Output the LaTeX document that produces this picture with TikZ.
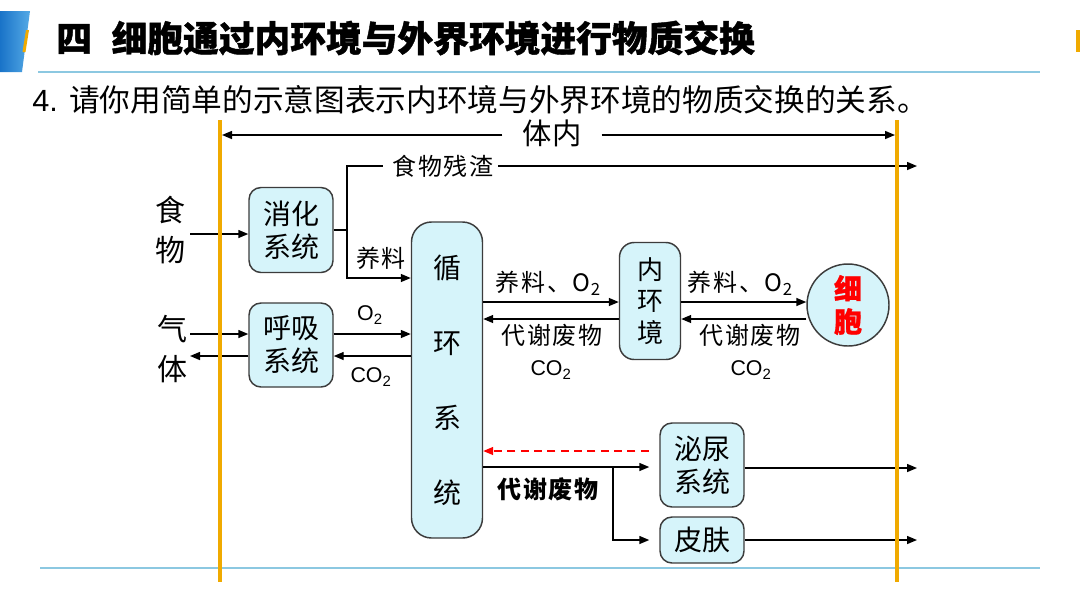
\documentclass[tikz,border=0pt]{standalone}
\usepackage{fontspec}
\setmainfont{Liberation Sans}
\newfontfamily\cjk{Noto Sans CJK SC}
\newfontfamily\cjkt[BoldFeatures={FakeBold=1.2}]{Noto Sans CJK SC}
\usetikzlibrary{arrows.meta}
\definecolor{boxfill}{RGB}{214,244,250}
\definecolor{boxline}{RGB}{60,60,60}
\definecolor{gold}{RGB}{240,170,0}
\definecolor{rulecol}{RGB}{140,200,225}
\definecolor{blueA}{RGB}{25,115,200}
\definecolor{blueB}{RGB}{85,170,230}
\newcommand\oxy{O\textsubscript{2}}
\newcommand\coo{CO\textsubscript{2}}
\begin{document}
\begin{tikzpicture}[x=0.75pt,y=-0.75pt,
 sysbox/.style={draw=boxline, fill=boxfill, line width=1.1pt, rounded corners=9pt, align=center, inner sep=0pt, font=\cjk\fontsize{21}{24.75}\selectfont},
 lab/.style={inner sep=0pt, font=\cjk\fontsize{18}{20}\selectfont\addfontfeature{LetterSpace=8}},
 chem/.style={inner sep=0pt, font=\fontsize{16}{18}\selectfont},
 con/.style={draw=black, line width=1.1pt, -{Triangle[length=7.5pt,width=6pt]}},
 plainline/.style={draw=black, line width=1.1pt},
 goldline/.style={draw=gold, line width=3pt},
 rulel/.style={draw=rulecol, line width=1.2pt},
]
\useasboundingbox (0,0) rectangle (1080,608);
\fill[white] (0,0) rectangle (1080,608);
% header decoration
\shade[left color=blueA, right color=blueB] (0,11) -- (30,11) -- (22,72) -- (0,72) -- cycle;
\fill[gold] (26,30) -- (29,30) -- (25.5,52) -- (22.5,52) -- cycle;
\fill[gold] (1076,30) rectangle (1080,52);
\node[anchor=west, inner sep=0pt, font=\cjkt\bfseries\fontsize{26.8}{28}\selectfont] (title) at (56,38) {四\hspace{0.55em}细胞通过内环境与外界环境进行物质交换};
\draw[rulel] (38,72) -- (1040,72);
\node[anchor=west, inner sep=0pt, font=\fontsize{23}{26}\selectfont] (sub) at (32,100) {4. {\cjk 请你用简单的示意图表示内环境与外界环境的物质交换的关系。}};
\draw[rulel] (40,568) -- (1040,568);

% 体内
\node[inner sep=0pt, font=\cjk\fontsize{22}{24}\selectfont, minimum width=74pt] (tinei) at (552,133) {体内};
\coordinate (tl) at (222,135);
\coordinate (tr) at (895,135);
\draw[con] (tinei.west |- tl) -- (tl);
\draw[con] (tinei.east |- tr) -- (tr);

% boxes
\node[sysbox, minimum width=63pt, minimum height=63.75pt] (xh) at (291,230) {消化\\系统};
\node[sysbox, minimum width=63pt, minimum height=63pt] (hx) at (291,345) {呼吸\\系统};
\node[sysbox, minimum width=53.25pt, minimum height=237pt, rounded corners=15pt, font=\cjk\fontsize{21}{56.25}\selectfont] (xun) at (447,380) {循\\环\\系\\统};
\node[sysbox, minimum width=45.75pt, minimum height=87.75pt, rounded corners=11pt, font=\cjk\fontsize{19.5}{23.6}\selectfont] (nhj) at (650,301) {内\\环\\境};
\node[draw=boxline, fill=boxfill, line width=1.1pt, circle, minimum size=61.5pt, inner sep=0pt, align=center, text=red, font=\cjkt\bfseries\fontsize{21}{24.75}\selectfont] (cell) at (848,305) {细\\胞};
\node[sysbox, minimum width=63pt, minimum height=63pt] (mn) at (702,465) {泌尿\\系统};
\node[sysbox, minimum width=63pt, minimum height=34.5pt] (pf) at (702,540) {皮肤};

% outside labels
\node[inner sep=0pt, align=center, font=\cjk\fontsize{22.5}{30}\selectfont] (food) at (170,230) {食\\物};
\node[inner sep=0pt, align=center, font=\cjk\fontsize{22.5}{30}\selectfont] (gas) at (172,349) {气\\体};

% food
\coordinate (fin) at (190,234);
\draw[con] (fin) -- (fin -| xh.west);
\node[lab] (zcz) at (443,166) {食物残渣};
\coordinate (sp1) at (347,230);
\coordinate (zczend) at (917,166);
\draw[plainline] (xh.east) -- (sp1) |- ([xshift=-7pt]zcz.west);
\draw[con] ([xshift=3pt]zcz.east) -- (zczend);
\draw[con] (sp1) |- (xun.west |- 0,278);
\node[lab] (yl1) at (381,258) {养料};

% gas
\coordinate (gin) at (190,334);
\coordinate (gout) at (190,356);
\draw[con] (gin) -- (gin -| hx.west);
\draw[con] (hx.west |- gout) -- (gout);
\draw[con] (hx.east |- 0,334) -- (xun.west |- 0,334);
\draw[con] (xun.west |- 0,356) -- (hx.east |- 0,356);
\node[chem] (o2a) at (370,315) {\oxy};
\node[chem] (co2a) at (371,377) {\coo};

% circulation <-> internal environment
\draw[con] (xun.east |- 0,302) -- (nhj.west |- 0,302);
\draw[con] (nhj.west |- 0,319) -- (xun.east |- 0,319);
\node[lab] (l1) at (548,283) {养料、\oxy};
\node[lab] (l2) at (552,335) {代谢废物};
\node[chem] (l3) at (551,370) {\coo};

% internal environment <-> cell
\draw[con] (nhj.east |- 0,302) -- (cell.west |- 0,302);
\draw[con] (cell.west |- 0,319) -- (nhj.east |- 0,319);
\node[lab] (r1) at (740,283) {养料、\oxy};
\node[lab] (r2) at (750,335) {代谢废物};
\node[chem] (r3) at (751,370) {\coo};

% excretion
\draw[con, red, dashed, dash pattern=on 6pt off 4pt, shorten <=8pt] (mn.west |- 0,451) -- (xun.east |- 0,451);
\coordinate (br) at (613,467);
\draw[con, shorten >=7.5pt] (xun.east |- br) -- (mn.west |- br);
\draw[con, shorten >=7.5pt] (br) |- (pf.west);
\node[lab, font=\cjk\bfseries\fontsize{18}{20}\selectfont\addfontfeature{LetterSpace=8}] (dx) at (548,489) {代谢废物};
\coordinate (mnout) at (917,468);
\coordinate (pfout) at (917,540);
\draw[con] (mn.east |- mnout) -- (mnout);
\draw[con] (pf.east) -- (pfout);

% body boundary
\draw[goldline] (220,120) -- (220,582);
\draw[goldline] (897,120) -- (897,582);
\end{tikzpicture}
\end{document}
